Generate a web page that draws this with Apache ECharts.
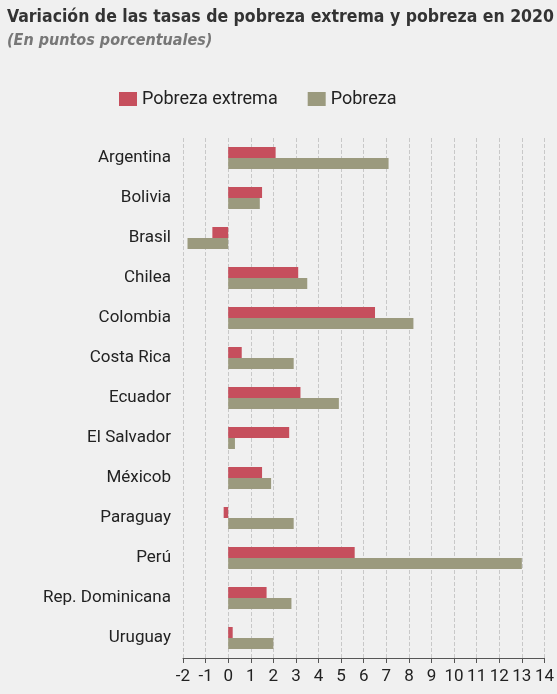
<!DOCTYPE html>
<html><head><meta charset="utf-8">
<script src="https://cdn.jsdelivr.net/npm/echarts@6/dist/echarts.min.js"></script>
<style>html,body{margin:0;padding:0;background:#f0f0f0}#c{width:557px;height:694px}</style>
</head><body><div id="c"></div>
<script>
const categories = ["Argentina","Bolivia","Brasil","Chilea","Colombia","Costa Rica","Ecuador","El Salvador","Méxicob","Paraguay","Perú","Rep. Dominicana","Uruguay"];
const pobrezaExtrema = [2.1,1.5,-0.7,3.1,6.5,0.6,3.2,2.7,1.5,-0.2,5.6,1.7,0.2];
const pobreza = [7.1,1.4,-1.8,3.5,8.2,2.9,4.9,0.3,1.9,2.9,13.0,2.8,2.0];
const F = 'Roboto, "DejaVu Sans Condensed", sans-serif';
const chart = echarts.init(document.getElementById('c'));
chart.setOption({
  backgroundColor:'#f0f0f0',
  title:{text:'Variación de las tasas de pobreza extrema y pobreza en 2020',
    subtext:'(En puntos porcentuales)',left:2,top:3,itemGap:7,
    textStyle:{fontFamily:'"DejaVu Sans Condensed"',fontWeight:'bold',fontSize:17.5,color:'#333'},
    subtextStyle:{fontFamily:'"DejaVu Sans Condensed"',fontStyle:'italic',fontWeight:'bold',fontSize:16,color:'#777'}},
  legend:{top:85,left:114,itemWidth:18,itemHeight:14,itemGap:30,icon:'rect',
    textStyle:{fontFamily:F,fontSize:18,color:'#222'}},
  grid:{left:183,right:5,top:138,bottom:36},
  xAxis:{type:'value',min:-2,max:14,interval:1,
    axisLine:{show:true,lineStyle:{color:'#555'}},axisTick:{show:true,lineStyle:{color:'#555'}},
    axisLabel:{fontFamily:F,fontSize:17,color:'#222',margin:10},
    splitLine:{show:true,lineStyle:{type:'dashed',color:'#c8c8c8'}}},
  yAxis:{type:'category',data:categories,inverse:true,
    axisLine:{show:false},axisTick:{show:false},
    axisLabel:{fontFamily:F,fontSize:17,color:'#222',margin:12}},
  series:[
    {name:'Pobreza extrema',type:'bar',data:pobrezaExtrema,barWidth:11,barGap:'0%',itemStyle:{color:'#c64f5d'}},
    {name:'Pobreza',type:'bar',data:pobreza,barWidth:11,itemStyle:{color:'#9b9a7e'}}
  ]
});
</script></body></html>
